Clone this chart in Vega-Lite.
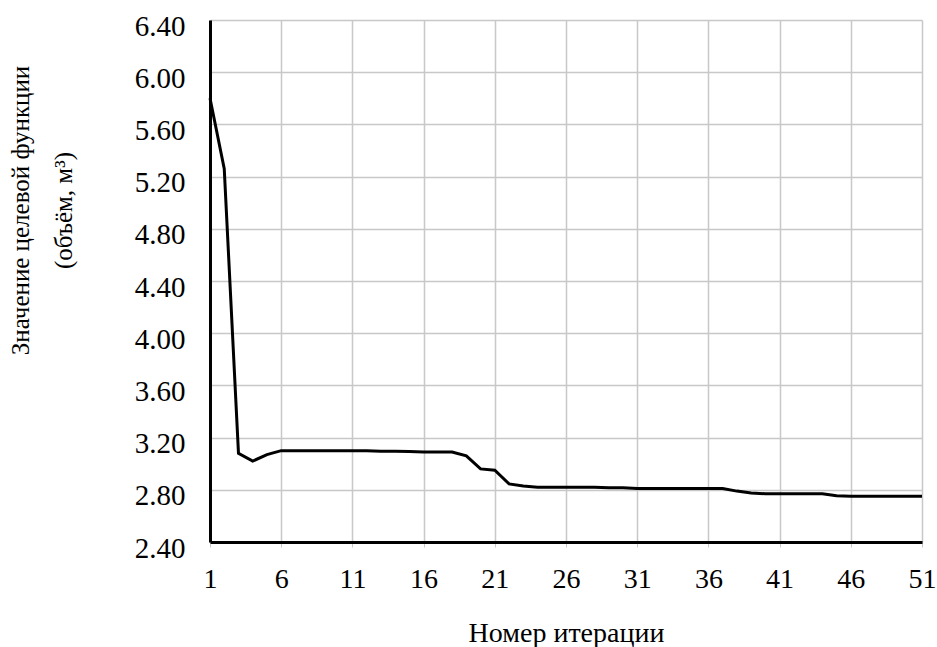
{
  "$schema": "https://vega.github.io/schema/vega-lite/v6.json",
  "width": 712,
  "height": 522,
  "autosize": {"type": "none"},
  "padding": {"left": 210, "top": 20, "right": 15, "bottom": 105},
  "background": "white",
  "config": {"view": {"stroke": null}, "font": "Times New Roman, Liberation Serif, serif"},
  "data": {
    "values": [
      {"iter": 1, "value": 5.80}, {"iter": 2, "value": 5.26}, {"iter": 3, "value": 3.08},
      {"iter": 4, "value": 3.02}, {"iter": 5, "value": 3.07}, {"iter": 6, "value": 3.10},
      {"iter": 7, "value": 3.10}, {"iter": 8, "value": 3.10}, {"iter": 9, "value": 3.10},
      {"iter": 10, "value": 3.10}, {"iter": 11, "value": 3.10}, {"iter": 12, "value": 3.10},
      {"iter": 13, "value": 3.095}, {"iter": 14, "value": 3.095}, {"iter": 15, "value": 3.093},
      {"iter": 16, "value": 3.09}, {"iter": 17, "value": 3.09}, {"iter": 18, "value": 3.09},
      {"iter": 19, "value": 3.06}, {"iter": 20, "value": 2.96}, {"iter": 21, "value": 2.95},
      {"iter": 22, "value": 2.845}, {"iter": 23, "value": 2.83}, {"iter": 24, "value": 2.82},
      {"iter": 25, "value": 2.82}, {"iter": 26, "value": 2.82}, {"iter": 27, "value": 2.82},
      {"iter": 28, "value": 2.82}, {"iter": 29, "value": 2.815}, {"iter": 30, "value": 2.815},
      {"iter": 31, "value": 2.81}, {"iter": 32, "value": 2.81}, {"iter": 33, "value": 2.81},
      {"iter": 34, "value": 2.81}, {"iter": 35, "value": 2.81}, {"iter": 36, "value": 2.81},
      {"iter": 37, "value": 2.81}, {"iter": 38, "value": 2.79}, {"iter": 39, "value": 2.775},
      {"iter": 40, "value": 2.77}, {"iter": 41, "value": 2.77}, {"iter": 42, "value": 2.77},
      {"iter": 43, "value": 2.77}, {"iter": 44, "value": 2.77}, {"iter": 45, "value": 2.755},
      {"iter": 46, "value": 2.75}, {"iter": 47, "value": 2.75}, {"iter": 48, "value": 2.75},
      {"iter": 49, "value": 2.75}, {"iter": 50, "value": 2.75}, {"iter": 51, "value": 2.75}
    ]
  },
  "mark": {"type": "line", "color": "black", "strokeWidth": 3},
  "encoding": {
    "x": {
      "field": "iter",
      "type": "quantitative",
      "scale": {"domain": [1, 51], "nice": false, "zero": false},
      "axis": {
        "values": [1, 6, 11, 16, 21, 26, 31, 36, 41, 46, 51],
        "title": "Номер итерации",
        "titleFont": "Times New Roman, Liberation Serif, serif",
        "titleFontSize": 28,
        "titleFontWeight": "normal",
        "titleColor": "black",
        "titleBaseline": "alphabetic",
        "titleY": 99,
        "labelFont": "Times New Roman, Liberation Serif, serif",
        "labelFontSize": 28,
        "labelColor": "black",
        "labelBaseline": "alphabetic",
        "labelPadding": 40,
        "labelFlush": false,
        "labelOverlap": false,
        "ticks": true,
        "tickSize": 5,
        "tickColor": "#c8c8c8",
        "domainColor": "black",
        "domainWidth": 3,
        "grid": true,
        "gridColor": "#c8c8c8",
        "gridWidth": 1.5
      }
    },
    "y": {
      "field": "value",
      "type": "quantitative",
      "scale": {"domain": [2.4, 6.4], "nice": false, "zero": false},
      "axis": {
        "values": [2.4, 2.8, 3.2, 3.6, 4.0, 4.4, 4.8, 5.2, 5.6, 6.0, 6.4],
        "format": ".2f",
        "title": ["Значение целевой функции", "(объём,  м³)"],
        "titleFont": "Times New Roman, Liberation Serif, serif",
        "titleFontSize": 25,
        "titleFontWeight": "normal",
        "titleColor": "black",
        "titleLineHeight": 43,
        "titleAngle": -90,
        "titleAlign": "center",
        "titleBaseline": "bottom",
        "titleX": -177,
        "titleY": 190,
        "labelFont": "Times New Roman, Liberation Serif, serif",
        "labelFontSize": 29,
        "labelColor": "black",
        "labelPadding": 25,
        "labelOffset": 6,
        "labelFlush": false,
        "labelOverlap": false,
        "ticks": false,
        "domainColor": "black",
        "domainWidth": 3,
        "grid": true,
        "gridColor": "#c8c8c8",
        "gridWidth": 1.5
      }
    }
  }
}
